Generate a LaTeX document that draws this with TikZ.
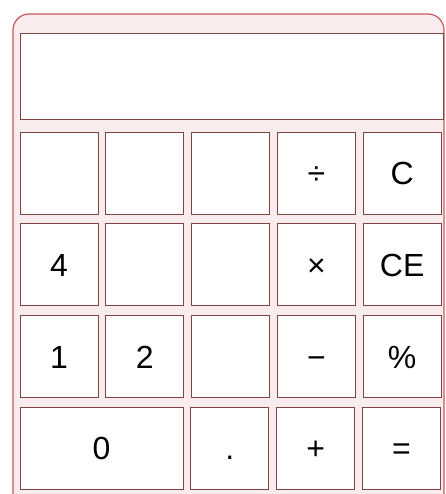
\documentclass[tikz,border=0pt]{standalone}
\usepackage{fontspec}
\setmainfont{Liberation Sans}
\usetikzlibrary{positioning}
\definecolor{bodyred}{HTML}{C85A5C}
\definecolor{bodypink}{HTML}{F8ECEE}
\definecolor{keyline}{HTML}{7E4444}

\begin{document}
\begin{tikzpicture}[
  x=1pt, y=-1pt,
  node distance=9pt and 7pt,
  every node/.style={font=\fontsize{32}{36}\selectfont},
  key/.style={rectangle, draw=keyline, line width=0.8pt, fill=white, minimum width=78pt, minimum height=82pt, inner sep=0pt, text height=23pt, text depth=0pt},
  widekey/.style={key, minimum width=163pt},
  screen/.style={rectangle, draw=keyline, line width=0.9pt, fill=white, minimum width=423pt, minimum height=86pt}
]
\useasboundingbox (0,0) rectangle (445,494);
% calculator body
\draw[bodyred, fill=bodypink, line width=1.2pt, rounded corners=16pt] (13,520) -- (13,14) -- (444,14) -- (444,520);
\node[screen] (display) at (231.5,76) {};
% row 1
\node[key] (r1c1) at (59,173) {};
\node[key, right=of r1c1] (r1c2) {};
\node[key, right=of r1c2] (r1c3) {};
\node[key, right=of r1c3] (r1c4) {÷};
\node[key, right=of r1c4] (r1c5) {C};
% row 2
\node[key, below=of r1c1] (r2c1) {4};
\node[key, right=of r2c1] (r2c2) {};
\node[key, right=of r2c2] (r2c3) {};
\node[key, right=of r2c3] (r2c4) {×};
\node[key, right=of r2c4] (r2c5) {CE};
% row 3
\node[key, below=of r2c1] (r3c1) {1};
\node[key, right=of r3c1] (r3c2) {2};
\node[key, right=of r3c2] (r3c3) {};
\node[key, right=of r3c3] (r3c4) {−};
\node[key, right=of r3c4] (r3c5) {\%};
% row 4
\node[widekey, below=of r3c1.south west, anchor=north west] (zero) {0};
\node[key, right=of zero] (dot) {.};
\node[key, right=of dot] (plus) {+};
\node[key, right=of plus] (equals) {=};
\end{tikzpicture}
\end{document}
